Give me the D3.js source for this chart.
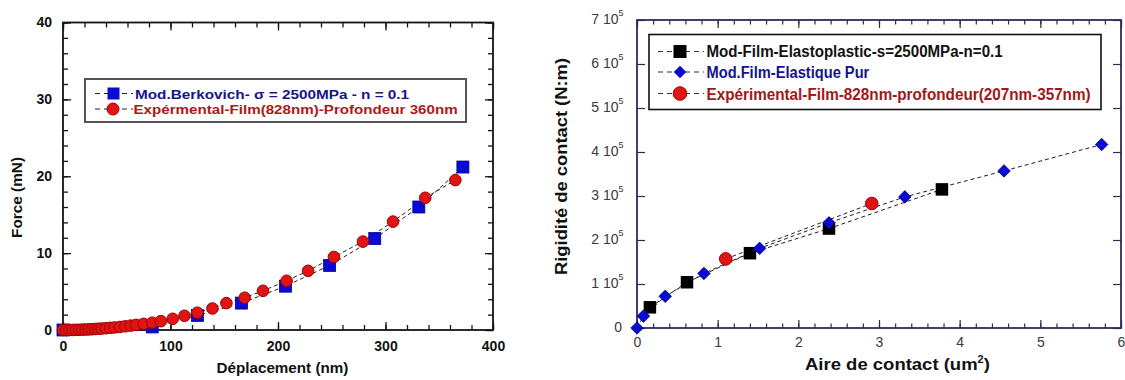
<!DOCTYPE html>
<html><head><meta charset="utf-8">
<script src="https://cdn.jsdelivr.net/npm/d3@7"></script>
<style>body{margin:0;background:#fff}svg{display:block;font-family:"Liberation Sans",Arial,sans-serif}</style>
</head><body><svg id="c" width="1125" height="380"></svg>
<script>
// ---------- LEFT CHART DATA ----------
const leftXTicks = [0, 100, 200, 300, 400];
const leftYTicks = [0, 10, 20, 30, 40];
const leftXMinor = [0,20,40,60,80,100,120,140,160,180,200,220,240,260,280,300,320,340,360,380,400];
const leftYMinor = [0,2,4,6,8,10,12,14,16,18,20,22,24,26,28,30,32,34,36,38,40];
const modDepth = [0, 83, 125, 166, 207, 248, 290, 331, 372];
const modForce = [0, 0.4, 1.9, 3.5, 5.7, 8.4, 11.9, 16.0, 21.2];
const expDepth = [0,3,6,9,12,15,18,21,24,27,30,33,36,40,44,48,53,58,63,68,75,83,91,102,113,125,139,152,169,186,208,228,252,279,307,337,365];
const expForce = [0,0,0.01,0.01,0.02,0.03,0.05,0.06,0.08,0.1,0.13,0.16,0.19,0.23,0.28,0.33,0.4,0.48,0.57,0.67,0.8,0.95,1.15,1.45,1.85,2.25,2.8,3.5,4.2,5.1,6.4,7.7,9.5,11.5,14.1,17.2,19.5];
const leftLegend = ["Mod.Berkovich- \u03C3 = 2500MPa - n = 0.1", "Expérmental-Film(828nm)-Profondeur 360nm"];

// ---------- RIGHT CHART DATA ----------
const rightXTicks = [0, 1, 2, 3, 4, 5, 6];
const rightXMinor = [0,0.2,0.4,0.6,0.8,1,1.2,1.4,1.6,1.8,2,2.2,2.4,2.6,2.8,3,3.2,3.4,3.6,3.8,4,4.2,4.4,4.6,4.8,5,5.2,5.4,5.6,5.8,6];
const rightYTicks = [0, 1e5, 2e5, 3e5, 4e5, 5e5, 6e5, 7e5];
const elastoArea = [0.16, 0.62, 1.40, 2.38, 3.78];
const elastoStiff = [0.47e5, 1.04e5, 1.70e5, 2.26e5, 3.15e5];
const elasArea = [0, 0.08, 0.35, 0.83, 1.52, 2.38, 3.32, 4.55, 5.76];
const elasStiff = [0, 0.27e5, 0.72e5, 1.24e5, 1.81e5, 2.39e5, 2.98e5, 3.57e5, 4.17e5];
const expArea = [1.10, 2.91];
const expStiff = [1.57e5, 2.83e5];
const rightLegend = ["Mod-Film-Elastoplastic-s=2500MPa-n=0.1", "Mod.Film-Elastique Pur", "Expérimental-Film-828nm-profondeur(207nm-357nm)"];

const svg = d3.select("#c");
svg.append("rect").attr("width",1125).attr("height",380).attr("fill","#fff");

function fitText(g, str, x0, x1, y, attrs) {
  const t = g.append("text").attr("x",0).attr("y",0).text(str);
  for (const k in attrs) t.attr(k, attrs[k]);
  const w = t.node().getBBox().width;
  const s = (x1 - x0) / w;
  t.attr("transform", `translate(${x0},${y}) scale(${s},1)`);
  return t;
}
function styleAxis(g, opts) {
  g.select(".domain").remove();
  g.selectAll(".tick line").attr("stroke", opts.color).attr("stroke-width", opts.tw || 1.3);
  g.selectAll(".tick text").attr("font-size", opts.fs || 14).attr("font-weight", opts.fw || "bold")
    .attr("fill", opts.tc || "#111").attr("font-family", '"Liberation Sans",Arial,sans-serif');
}

// ================= LEFT CHART =================
const xL = d3.scaleLinear().domain([0,400]).range([63,493]);
const yL = d3.scaleLinear().domain([0,40]).range([330,22.5]);
const gL = svg.append("g");
const cL = "#151515";

gL.append("g").attr("transform","translate(0,330)")
  .call(d3.axisBottom(xL).tickValues(leftXMinor).tickSize(-5).tickFormat("")).call(styleAxis,{color:cL});
gL.append("g").attr("transform","translate(0,330)")
  .call(d3.axisBottom(xL).tickValues(leftXTicks).tickSize(-8).tickPadding(11).tickFormat(d3.format("d"))).call(styleAxis,{color:cL});
gL.append("g").attr("transform","translate(0,22.5)")
  .call(d3.axisTop(xL).tickValues(leftXMinor).tickSize(-5).tickFormat("")).call(styleAxis,{color:cL});
gL.append("g").attr("transform","translate(0,22.5)")
  .call(d3.axisTop(xL).tickValues(leftXTicks).tickSize(-8).tickFormat("")).call(styleAxis,{color:cL});
gL.append("g").attr("transform","translate(63,0)")
  .call(d3.axisLeft(yL).tickValues(leftYMinor).tickSize(-5).tickFormat("")).call(styleAxis,{color:cL});
gL.append("g").attr("transform","translate(63,0)")
  .call(d3.axisLeft(yL).tickValues(leftYTicks).tickSize(-8).tickPadding(11).tickFormat(d3.format("d"))).call(styleAxis,{color:cL});
gL.append("g").attr("transform","translate(493,0)")
  .call(d3.axisRight(yL).tickValues(leftYMinor).tickSize(-5).tickFormat("")).call(styleAxis,{color:cL});
gL.append("g").attr("transform","translate(493,0)")
  .call(d3.axisRight(yL).tickValues(leftYTicks).tickSize(-8).tickFormat("")).call(styleAxis,{color:cL});
gL.append("rect").attr("x",xL(0)).attr("y",yL(40)).attr("width",xL(400)-xL(0)).attr("height",yL(0)-yL(40))
  .attr("fill","none").attr("stroke",cL).attr("stroke-width",1.8);

const modPts = modDepth.map((d,i)=>[d,modForce[i]]);
const expPts = expDepth.map((d,i)=>[d,expForce[i]]);
const lineL = d3.line().x(d=>xL(d[0])).y(d=>yL(d[1]));
gL.append("path").attr("d",lineL(modPts)).attr("fill","none").attr("stroke","#222").attr("stroke-width",1).attr("stroke-dasharray","4,3");
gL.append("path").attr("d",lineL(expPts)).attr("fill","none").attr("stroke","#222").attr("stroke-width",1).attr("stroke-dasharray","4,3");
const sqL = 12;
gL.selectAll(".msq").data(modPts).join("rect")
  .attr("x",d=>xL(d[0])-sqL/2).attr("y",d=>yL(d[1])-sqL/2).attr("width",sqL).attr("height",sqL)
  .attr("fill","#0a0ad2").attr("stroke","#0000a0").attr("stroke-width",0.8);
gL.selectAll(".mci").data(expPts).join("circle")
  .attr("cx",d=>xL(d[0])).attr("cy",d=>yL(d[1])).attr("r",5.8)
  .attr("fill","#e01414").attr("stroke","#a00000").attr("stroke-width",1);

// left legend
gL.append("rect").attr("x",85).attr("y",79).attr("width",381).attr("height",43)
  .attr("fill","#fff").attr("stroke","#555").attr("stroke-width",2);
const legRowsL = [{y:93.5, c:"#16168a"}, {y:109, c:"#b01818"}];
legRowsL.forEach((r,i)=>{
  gL.append("line").attr("x1",95).attr("x2",133).attr("y1",r.y).attr("y2",r.y)
    .attr("stroke","#222").attr("stroke-width",1.2).attr("stroke-dasharray","5,4");
  if (i===0) gL.append("rect").attr("x",107.5).attr("y",r.y-6).attr("width",12).attr("height",12).attr("fill","#0a0ad2");
  else gL.append("circle").attr("cx",113).attr("cy",r.y).attr("r",6).attr("fill","#e01414").attr("stroke","#a00000");
});
fitText(gL, leftLegend[0], 135, 410, 98.5, {"font-size":13.5,"font-weight":"bold",fill:"#16168a"});
fitText(gL, leftLegend[1], 133.5, 458, 114, {"font-size":13.5,"font-weight":"bold",fill:"#b01818"});

// left axis titles
fitText(gL, "Déplacement (nm)", 216.5, 348.5, 373, {"font-size":14,"font-weight":"bold",fill:"#111"});
gL.append("text").attr("transform","translate(22,197.5) rotate(-90)").attr("text-anchor","middle")
  .attr("font-size",14).attr("font-weight","bold").attr("fill","#111")
  .attr("textLength",81).attr("lengthAdjust","spacingAndGlyphs").text("Force (mN)");

// ================= RIGHT CHART =================
const xR = d3.scaleLinear().domain([0,6]).range([637,1121]);
const yR = d3.scaleLinear().domain([0,7e5]).range([328,20]);
const gR = svg.append("g");
const cR = "#2c2c5a";

gR.append("g").attr("transform","translate(0,328)")
  .call(d3.axisBottom(xR).tickValues(rightXMinor).tickSize(-4.5).tickFormat("")).call(styleAxis,{color:cR,tw:1.2});
gR.append("g").attr("transform","translate(0,328)")
  .call(d3.axisBottom(xR).tickValues(rightXTicks).tickSize(-8).tickPadding(9.5).tickFormat(d3.format("d")))
  .call(styleAxis,{color:cR,tw:1.2,fw:"normal",fs:14,tc:"#3a3a3a"});
gR.append("g").attr("transform","translate(0,20)")
  .call(d3.axisTop(xR).tickValues(rightXMinor).tickSize(-4.5).tickFormat("")).call(styleAxis,{color:cR,tw:1.2});
gR.append("g").attr("transform","translate(0,20)")
  .call(d3.axisTop(xR).tickValues(rightXTicks).tickSize(-8).tickFormat("")).call(styleAxis,{color:cR,tw:1.2});
gR.append("g").attr("transform","translate(637,0)")
  .call(d3.axisLeft(yR).tickValues(rightYTicks).tickSize(-8).tickFormat("")).call(styleAxis,{color:cR,tw:1.2});
gR.append("g").attr("transform","translate(1121,0)")
  .call(d3.axisRight(yR).tickValues(rightYTicks).tickSize(-8).tickFormat("")).call(styleAxis,{color:cR,tw:1.2});
gR.append("rect").attr("x",xR(0)).attr("y",yR(7e5)).attr("width",xR(6)-xR(0)).attr("height",yR(0)-yR(7e5))
  .attr("fill","none").attr("stroke",cR).attr("stroke-width",1.8);

// right y tick labels "n 10^5"
const yLab = gR.selectAll(".ylab").data(rightYTicks).join("text")
  .attr("x",d=> d===0 ? 622 : 623.5).attr("y",d=>yR(d)+4)
  .attr("text-anchor","end").attr("font-size",14).attr("fill","#3a3a3a");
yLab.each(function(d){
  const t = d3.select(this);
  if (d===0) { t.text("0"); return; }
  t.append("tspan").text(`${d/1e5} 10`);
  t.append("tspan").attr("dy",-8).attr("font-size",9).text("5");
});

const elastoPts = elastoArea.map((a,i)=>[a,elastoStiff[i]]);
const elasPts = elasArea.map((a,i)=>[a,elasStiff[i]]);
const expRPts = expArea.map((a,i)=>[a,expStiff[i]]);
const lineR = d3.line().x(d=>xR(d[0])).y(d=>yR(d[1]));
[elastoPts, elasPts, expRPts].forEach(p=>{
  gR.append("path").attr("d",lineR(p)).attr("fill","none").attr("stroke","#222").attr("stroke-width",1).attr("stroke-dasharray","4,3");
});
const sqR = 12.5;
gR.selectAll(".esq").data(elastoPts).join("rect")
  .attr("x",d=>xR(d[0])-sqR/2).attr("y",d=>yR(d[1])-sqR/2).attr("width",sqR).attr("height",sqR).attr("fill","#000");
const dia = d3.symbol().type(d3.symbolDiamond2).size(100);
gR.selectAll(".edi").data(elasPts).join("path")
  .attr("transform",d=>`translate(${xR(d[0])},${yR(d[1])})`).attr("d",dia)
  .attr("fill","#0a0ad2").attr("stroke","#00008a").attr("stroke-width",0.8);
gR.selectAll(".eci").data(expRPts).join("circle")
  .attr("cx",d=>xR(d[0])).attr("cy",d=>yR(d[1])).attr("r",6.3)
  .attr("fill","#e01414").attr("stroke","#a00000").attr("stroke-width",1);

// right legend
gR.append("rect").attr("x",649).attr("y",34.5).attr("width",452).attr("height",75)
  .attr("fill","#fff").attr("stroke","#111").attr("stroke-width",1.6);
const legRowsR = [{y:51.5,c:"#111"},{y:72,c:"#14148c"},{y:93.5,c:"#a01818"}];
legRowsR.forEach((r,i)=>{
  gR.append("line").attr("x1",658).attr("x2",704).attr("y1",r.y).attr("y2",r.y)
    .attr("stroke","#333").attr("stroke-width",1.2).attr("stroke-dasharray","5,4");
  if (i===0) gR.append("rect").attr("x",673.5).attr("y",r.y-6.5).attr("width",13).attr("height",13).attr("fill","#000");
  else if (i===1) gR.append("path").attr("transform",`translate(680,${r.y})`).attr("d",dia).attr("fill","#0a0ad2");
  else gR.append("circle").attr("cx",680).attr("cy",r.y).attr("r",6.8).attr("fill","#e01414").attr("stroke","#a00000");
});
fitText(gR, rightLegend[0], 706.5, 1003, 57, {"font-size":16,"font-weight":"bold",fill:"#111"});
fitText(gR, rightLegend[1], 706.5, 869.5, 77.5, {"font-size":16,"font-weight":"bold",fill:"#14148c"});
fitText(gR, rightLegend[2], 706.5, 1091, 99.5, {"font-size":16,"font-weight":"bold",fill:"#a01818"});

// right axis titles
const xt = gR.append("text").attr("x",0).attr("y",0).attr("font-size",17).attr("font-weight","bold").attr("fill","#111");
xt.append("tspan").text("Aire de contact (um");
xt.append("tspan").attr("dy",-7).attr("font-size",10).text("2");
xt.append("tspan").attr("dy",7).text(")");
{ const w = xt.node().getBBox().width; xt.attr("transform",`translate(805,370) scale(${185/w},1)`); }
gR.append("text").attr("transform","translate(567,166.5) rotate(-90)").attr("text-anchor","middle")
  .attr("font-size",16).attr("font-weight","bold").attr("fill","#111")
  .attr("textLength",217).attr("lengthAdjust","spacingAndGlyphs").text("Rigidité de contact (N:m)");
</script>
</body></html>
